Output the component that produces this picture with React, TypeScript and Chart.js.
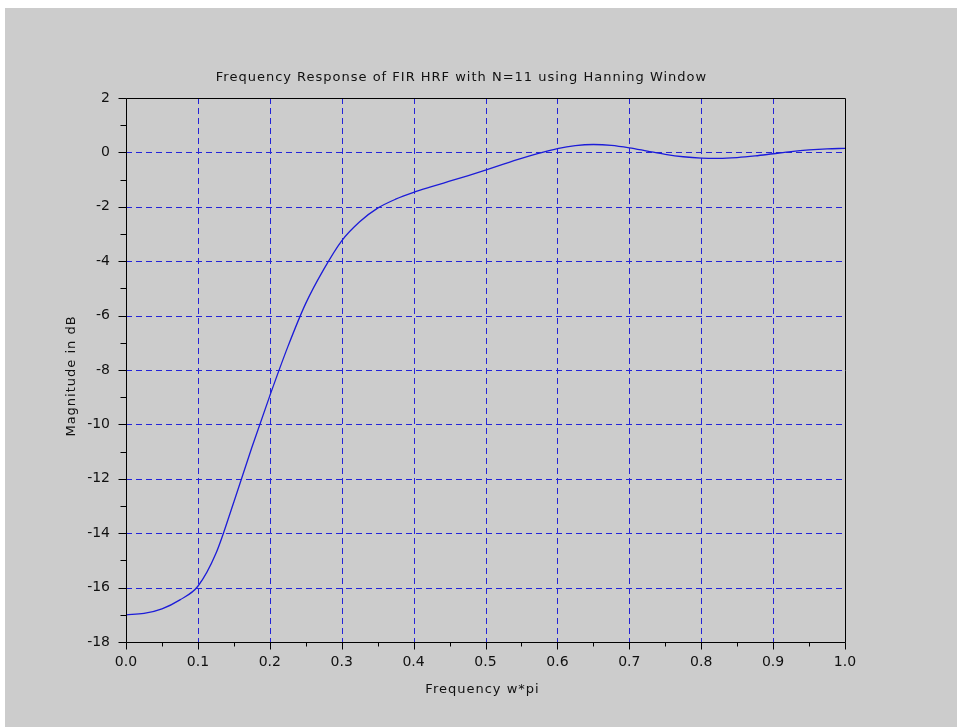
import React, { useEffect, useRef } from "react";
import { Chart, registerables } from "chart.js";

Chart.register(...registerables);

const TITLE = "Frequency Response of FIR HRF with N=11 using Hanning Window";
const X_LABEL = "Frequency w*pi";
const Y_LABEL = "Magnitude in dB";

const freq = [
  0, 0.025, 0.05, 0.075, 0.1, 0.125, 0.15, 0.175, 0.2, 0.225, 0.25, 0.275,
  0.3, 0.325, 0.35, 0.375, 0.4, 0.425, 0.45, 0.475, 0.5, 0.525, 0.55, 0.575,
  0.6, 0.625, 0.65, 0.675, 0.7, 0.725, 0.75, 0.775, 0.8, 0.825, 0.85, 0.875,
  0.9, 0.925, 0.95, 0.975, 1.0,
];
const magDb = [
  -17.0, -16.95, -16.78, -16.45, -15.95, -14.75, -12.85, -10.85, -8.95, -7.15,
  -5.55, -4.3, -3.25, -2.55, -2.05, -1.72, -1.47, -1.26, -1.06, -0.86, -0.65,
  -0.43, -0.22, -0.03, 0.14, 0.25, 0.29, 0.26, 0.17, 0.05, -0.07, -0.16, -0.21,
  -0.22, -0.19, -0.13, -0.05, 0.03, 0.09, 0.13, 0.15,
];

const X_MIN = 0;
const X_MAX = 1;
const X_STEP = 0.1;
const Y_MIN = -18;
const Y_MAX = 2;
const Y_STEP = 2;

const FONT = "DejaVu Sans";
const TEXT = "#111";
const GRID = "#2424d8";
const LINE = "#1c1cd8";

const framePlugin = {
  id: "frame",
  beforeDatasetsDraw(chart: any) {
    const { ctx, chartArea: a } = chart;
    const xs = chart.scales.x;
    const ys = chart.scales.y;
    ctx.save();
    ctx.strokeStyle = GRID;
    ctx.lineWidth = 1;
    ctx.setLineDash([6, 4]);
    xs.ticks.forEach((t: any) => {
      if (t.value <= X_MIN || t.value >= X_MAX) return;
      const px = Math.round(xs.getPixelForValue(t.value)) + 0.5;
      ctx.beginPath();
      ctx.moveTo(px, a.top);
      ctx.lineTo(px, a.bottom);
      ctx.stroke();
    });
    ys.ticks.forEach((t: any) => {
      if (t.value <= Y_MIN || t.value >= Y_MAX) return;
      const py = Math.round(ys.getPixelForValue(t.value)) + 0.5;
      ctx.beginPath();
      ctx.moveTo(a.left, py);
      ctx.lineTo(a.right, py);
      ctx.stroke();
    });
    ctx.restore();
  },
  afterDraw(chart: any) {
    const { ctx, chartArea: a } = chart;
    const xs = chart.scales.x;
    const ys = chart.scales.y;
    ctx.save();
    ctx.strokeStyle = "#000";
    ctx.lineWidth = 1;
    ctx.setLineDash([]);
    const L = Math.round(a.left) + 0.5;
    const R = Math.round(a.right) + 0.5;
    const T = Math.round(a.top) + 0.5;
    const B = Math.round(a.bottom) + 0.5;
    ctx.beginPath();
    ctx.moveTo(L, T);
    ctx.lineTo(R, T);
    ctx.lineTo(R, B);
    ctx.lineTo(L, B);
    ctx.closePath();
    ctx.stroke();
    const xv = xs.ticks.map((t: any) => t.value);
    xv.forEach((v: number, i: number) => {
      const px = Math.round(xs.getPixelForValue(v)) + 0.5;
      ctx.beginPath();
      ctx.moveTo(px, B);
      ctx.lineTo(px, B + 7);
      ctx.stroke();
      if (i < xv.length - 1) {
        const m = (v + xv[i + 1]) / 2;
        const pm = Math.round(xs.getPixelForValue(m)) + 0.5;
        ctx.beginPath();
        ctx.moveTo(pm, B);
        ctx.lineTo(pm, B + 4);
        ctx.stroke();
      }
    });
    const yv = ys.ticks.map((t: any) => t.value);
    yv.forEach((v: number, i: number) => {
      const py = Math.round(ys.getPixelForValue(v)) + 0.5;
      ctx.beginPath();
      ctx.moveTo(L, py);
      ctx.lineTo(L - 8, py);
      ctx.stroke();
      if (i < yv.length - 1) {
        const m = (v + yv[i + 1]) / 2;
        const pm = Math.round(ys.getPixelForValue(m)) + 0.5;
        ctx.beginPath();
        ctx.moveTo(L, pm);
        ctx.lineTo(L - 6, pm);
        ctx.stroke();
      }
    });
    // titles with letter spacing
    ctx.fillStyle = TEXT;
    ctx.font = `normal 13px "${FONT}"`;
    (ctx as any).letterSpacing = "1px";
    ctx.textAlign = "center";
    ctx.textBaseline = "middle";
    const cx = (a.left + a.right) / 2;
    ctx.fillText(TITLE, cx - 24, a.top - 20);
    ctx.fillText(X_LABEL, cx - 3, a.bottom + 48);
    ctx.save();
    ctx.translate(a.left - 54, (a.top + a.bottom) / 2 + 6);
    ctx.rotate(-Math.PI / 2);
    ctx.fillText(Y_LABEL, 0, 0);
    ctx.restore();
    ctx.restore();
  },
};

export default function App() {
  const ref = useRef<HTMLCanvasElement | null>(null);
  useEffect(() => {
    document.body.style.margin = "0";
    const canvas = ref.current!;
    const tickFont = { family: FONT, size: 14, weight: "normal" as const };
    const chart = new Chart(canvas, {
      type: "line",
      data: {
        datasets: [
          {
            data: freq.map((f, i) => ({ x: f, y: magDb[i] })),
            borderColor: LINE,
            borderWidth: 1.3,
            pointRadius: 0,
            cubicInterpolationMode: "monotone",
            fill: false,
          },
        ],
      },
      options: {
        responsive: false,
        animation: false,
        devicePixelRatio: 1,
        layout: { padding: { left: 60, right: 112, top: 90, bottom: 30 } },
        plugins: {
          legend: { display: false },
          tooltip: { enabled: false },
          title: { display: false },
        },
        scales: {
          x: {
            type: "linear",
            min: X_MIN,
            max: X_MAX,
            afterFit: (s: any) => {
              s.height = 55;
            },
            ticks: {
              stepSize: X_STEP,
              callback: (v: any) => Number(v).toFixed(1),
              font: tickFont,
              color: TEXT,
              padding: 5,
              maxRotation: 0,
              autoSkip: false,
            },
            grid: { drawOnChartArea: false, tickLength: 7, tickColor: "rgba(0,0,0,0)" },
            border: { display: false },
          },
          y: {
            type: "linear",
            min: Y_MIN,
            max: Y_MAX,
            afterFit: (s: any) => {
              s.width = 61;
            },
            ticks: {
              stepSize: Y_STEP,
              callback: (v: any) => String(Number(v)),
              font: tickFont,
              color: TEXT,
              padding: 8,
              autoSkip: false,
            },
            grid: { drawOnChartArea: false, tickLength: 8, tickColor: "rgba(0,0,0,0)" },
            border: { display: false },
          },
        },
      },
      plugins: [framePlugin],
    });
    return () => chart.destroy();
  }, []);
  return (
    <div style={{ position: "fixed", inset: 0, background: "#fff" }}>
      <canvas
        ref={ref}
        width={952}
        height={719}
        style={{
          position: "absolute",
          left: 5,
          top: 8,
          width: 952,
          height: 719,
          background: "#cccccc",
        }}
      />
    </div>
  );
}
